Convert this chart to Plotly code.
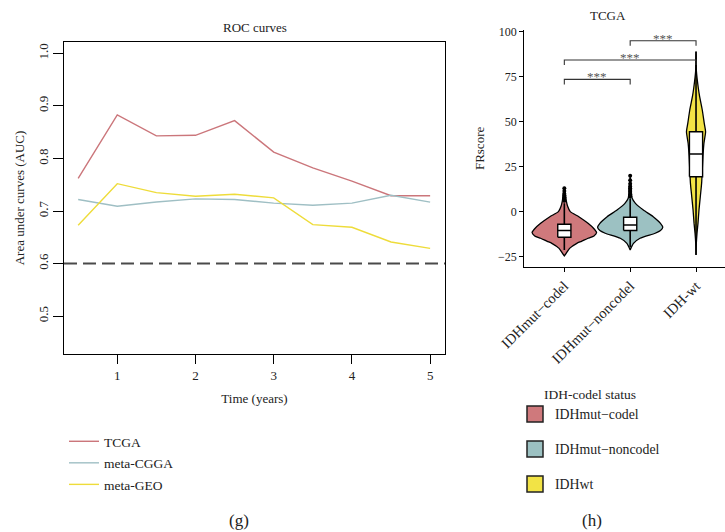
import plotly.graph_objects as go

# ---------------- data: ROC panel (g) ----------------
years = [0.5, 1, 1.5, 2, 2.5, 3, 3.5, 4, 4.5, 5]
auc_tcga = [0.762, 0.883, 0.843, 0.844, 0.872, 0.812, 0.782, 0.757, 0.729, 0.729]
auc_cgga = [0.722, 0.709, 0.717, 0.723, 0.722, 0.715, 0.711, 0.715, 0.730, 0.717]
auc_geo = [0.673, 0.752, 0.735, 0.728, 0.732, 0.725, 0.674, 0.669, 0.641, 0.629]
roc_names = ["TCGA", "meta-CGGA", "meta-GEO"]
auc_reference = 0.6
roc_xticks = [1, 2, 3, 4, 5]
roc_yticks = [0.5, 0.6, 0.7, 0.8, 0.9, 1.0]

# ---------------- data: violin panel (h) ----------------
groups = ["IDHmut\u2212codel", "IDHmut\u2212noncodel", "IDH-wt"]
legend_labels = ["IDHmut\u2212codel", "IDHmut\u2212noncodel", "IDHwt"]
group_pos = [1, 2, 3]

# violin outlines (FRscore level, half-width in category units)
codel_vy = [13.5, 10, 6, 3, 0, -2.8, -6.5, -9.5, -11.6, -13.5, -14.8, -16.5, -17.6, -20.4, -23.1, -24.6]
codel_vw = [0.0, 0.015, 0.03, 0.05, 0.09, 0.22, 0.36, 0.45, 0.49, 0.45, 0.36, 0.26, 0.19, 0.08, 0.03, 0.0]
noncodel_vy = [20, 15, 10, 7.4, 4.6, 0.9, -2.8, -6.5, -8.7, -10.5, -12.0, -14.8, -17.6, -21.3]
noncodel_vw = [0.0, 0.01, 0.02, 0.03, 0.08, 0.2, 0.35, 0.46, 0.495, 0.46, 0.38, 0.15, 0.05, 0.0]
wt_vy = [89, 78, 68.6, 63.9, 56.5, 49.1, 44.4, 38.0, 30.6, 23.2, 15.8, 8.3, 0.9, -6.4, -12.0, -18, -24]
wt_vw = [0.0, 0.006, 0.035, 0.055, 0.095, 0.125, 0.145, 0.12, 0.105, 0.095, 0.085, 0.065, 0.045, 0.03, 0.015, 0.004, 0.0]

# box statistics
box_q1 = [-14.2, -10.5, 19.4]
box_median = [-10.5, -7.4, 32.0]
box_q3 = [-7.0, -3.1, 44.4]
box_low = [-21.3, -19.8, -24.1]
box_high = [4.6, 7.4, 88.9]

# outliers
codel_out = [6.0, 7.0, 8.0, 9.0, 10.0, 11.5, 13.0]
noncodel_out = [8.5, 9.5, 11.0, 12.0, 13.0, 14.0, 15.5, 17.5, 20.0]

# significance brackets (from group, to group, height, label)
sig_from = [1, 1, 2]
sig_to = [2, 3, 3]
sig_height = [73.5, 84.3, 95.0]
sig_label = ["***", "***", "***"]
sig_tip = 2.8
frs_ticks = [-25, 0, 25, 50, 75, 100]

# ---------------- styling ----------------
FONT = "Liberation Serif"
line_colors = ["#CB767B", "#9FBFC4", "#EEDC3A"]
fill_colors = ["#CF797C", "#9CC1C2", "#F2E345"]

fig = go.Figure()

# ROC lines
for name, vals, col in zip(roc_names, [auc_tcga, auc_cgga, auc_geo], line_colors):
    fig.add_trace(go.Scatter(x=years, y=vals, mode="lines", name=name,
                             line=dict(color=col, width=1.4),
                             xaxis="x", yaxis="y", legend="legend",
                             legendgroup=name))

fig.add_shape(type="line", xref="x domain", yref="y", x0=0, x1=1,
              y0=auc_reference, y1=auc_reference,
              line=dict(color="#4a4a4a", width=2, dash="13px,6px"))

# violins
violins = [(codel_vy, codel_vw), (noncodel_vy, noncodel_vw), (wt_vy, wt_vw)]
for i, (vy, vw) in enumerate(violins):
    c = group_pos[i]
    xs = [c + w for w in vw] + [c - w for w in reversed(vw)]
    ys = list(vy) + list(reversed(vy))
    fig.add_trace(go.Scatter(x=xs, y=ys, mode="lines", fill="toself",
                             fillcolor=fill_colors[i],
                             line=dict(color="black", width=1.3, shape="spline", smoothing=0.6),
                             xaxis="x2", yaxis="y2", showlegend=False, hoverinfo="skip"))

# whiskers
for i in range(3):
    c = group_pos[i]
    fig.add_trace(go.Scatter(x=[c, c], y=[box_low[i], box_high[i]], mode="lines",
                             line=dict(color="black", width=1.6),
                             xaxis="x2", yaxis="y2", showlegend=False, hoverinfo="skip"))

# boxes
bw = 0.1
for i in range(3):
    c = group_pos[i]
    fig.add_trace(go.Scatter(x=[c - bw, c + bw, c + bw, c - bw, c - bw],
                             y=[box_q1[i], box_q1[i], box_q3[i], box_q3[i], box_q1[i]],
                             mode="lines", fill="toself", fillcolor="white",
                             line=dict(color="black", width=1.4),
                             xaxis="x2", yaxis="y2", showlegend=False, hoverinfo="skip"))
    fig.add_trace(go.Scatter(x=[c - bw, c + bw], y=[box_median[i], box_median[i]],
                             mode="lines", line=dict(color="black", width=1.4),
                             xaxis="x2", yaxis="y2", showlegend=False, hoverinfo="skip"))

# outliers
for c, outs in [(group_pos[0], codel_out), (group_pos[1], noncodel_out)]:
    fig.add_trace(go.Scatter(x=[c] * len(outs), y=outs, mode="markers",
                             marker=dict(color="black", size=4),
                             xaxis="x2", yaxis="y2", showlegend=False, hoverinfo="skip"))

# significance brackets
for a, b, h, lab in zip(sig_from, sig_to, sig_height, sig_label):
    fig.add_trace(go.Scatter(x=[a, a, b, b], y=[h - sig_tip, h, h, h - sig_tip], mode="lines",
                             line=dict(color="#333333", width=1.1),
                             xaxis="x2", yaxis="y2", showlegend=False, hoverinfo="skip"))
    fig.add_annotation(x=(a + b) / 2, y=h, xref="x2", yref="y2", text=lab,
                       showarrow=False, yanchor="bottom", yshift=-7,
                       font=dict(family=FONT, size=13, color="#555555"))

# legend entries for violin groups
for i, lab in enumerate(legend_labels):
    fig.add_trace(go.Scatter(x=[None], y=[None], mode="markers", name=lab,
                             marker=dict(symbol="square", size=18, color=fill_colors[i],
                                         line=dict(color="#222222", width=1.5)),
                             xaxis="x2", yaxis="y2", legend="legend2", legendgroup=lab))

fig.update_layout(
    width=725, height=532,
    margin=dict(l=0, r=0, t=0, b=0, autoexpand=False),
    paper_bgcolor="white", plot_bgcolor="white",
    font=dict(family=FONT, size=13, color="#222222"),
    xaxis=dict(domain=[0.08828, 0.61379], range=[0.319, 5.19], anchor="y", automargin=False,
               tickvals=roc_xticks, ticks="outside", ticklen=9, tickwidth=1.3,
               tickcolor="black", showline=True, linecolor="black", linewidth=1.3,
               mirror=True, showgrid=False, zeroline=False,
               tickfont=dict(size=13, color="#222222"),
               title=dict(text="Time (years)", font=dict(size=13), standoff=12)),
    yaxis=dict(domain=[0.33459, 0.92105], range=[0.428, 1.0215], anchor="x", automargin=False,
               tickvals=roc_yticks, tickformat=".1f", ticks="outside", ticklen=10,
               tickwidth=1.3, tickcolor="black", showline=True, linecolor="black",
               linewidth=1.3, mirror=True, showgrid=False, zeroline=False,
               tickangle=-90, tickfont=dict(size=13, color="#222222"),
               title=dict(text="Area under curves (AUC)", font=dict(size=13), standoff=8)),
    xaxis2=dict(domain=[0.72317, 1.0], range=[0.392, 3.44], anchor="y2", automargin=False,
                tickvals=group_pos, ticktext=groups, tickangle=-45,
                ticks="outside", ticklen=4, tickcolor="black", tickwidth=1,
                showline=True, linecolor="black", linewidth=1.2,
                showgrid=False, zeroline=False,
                tickfont=dict(size=14.5, color="#222222")),
    yaxis2=dict(domain=[0.49868, 0.94342], range=[-30.6, 100.9], anchor="x2", automargin=False,
                tickvals=frs_ticks, ticks="outside", ticklen=4, tickcolor="black",
                tickwidth=1, showline=True, linecolor="black", linewidth=1.2,
                showgrid=False, zeroline=False,
                tickfont=dict(size=12, color="#222222"),
                title=dict(text="FRscore", font=dict(size=13), standoff=10)),
    legend=dict(x=64 / 725, y=1 - 426 / 532, xanchor="left", yanchor="top",
                bgcolor="rgba(0,0,0,0)", font=dict(size=13.5), tracegroupgap=1,
                itemclick=False, itemdoubleclick=False),
    legend2=dict(x=515 / 725, y=1 - 381 / 532, xanchor="left", yanchor="top",
                 bgcolor="rgba(0,0,0,0)", font=dict(size=13.8), tracegroupgap=14,
                 title=dict(text="IDH-codel status", side="top center", font=dict(size=13.5)),
                 itemclick=False, itemdoubleclick=False),
    showlegend=True,
)

fig.add_annotation(text="ROC curves", x=254.5 / 725, y=1 - 28 / 532, xref="paper", yref="paper",
                   yanchor="middle", showarrow=False, font=dict(size=13))
fig.add_annotation(text="TCGA", x=628 / 725, y=1 - 15 / 532, xref="paper", yref="paper",
                   yanchor="middle", showarrow=False, font=dict(size=13))
fig.add_annotation(text="(g)", x=227 / 725, y=1 - 520 / 532, xref="paper", yref="paper",
                   yanchor="middle", showarrow=False, font=dict(size=17))
fig.add_annotation(text="(h)", x=604 / 725, y=1 - 520 / 532, xref="paper", yref="paper",
                   yanchor="middle", showarrow=False, font=dict(size=17))

fig.write_html("out.html", config={"displayModeBar": False},
               post_script="document.body.style.margin='0';document.body.style.overflow='hidden';")
